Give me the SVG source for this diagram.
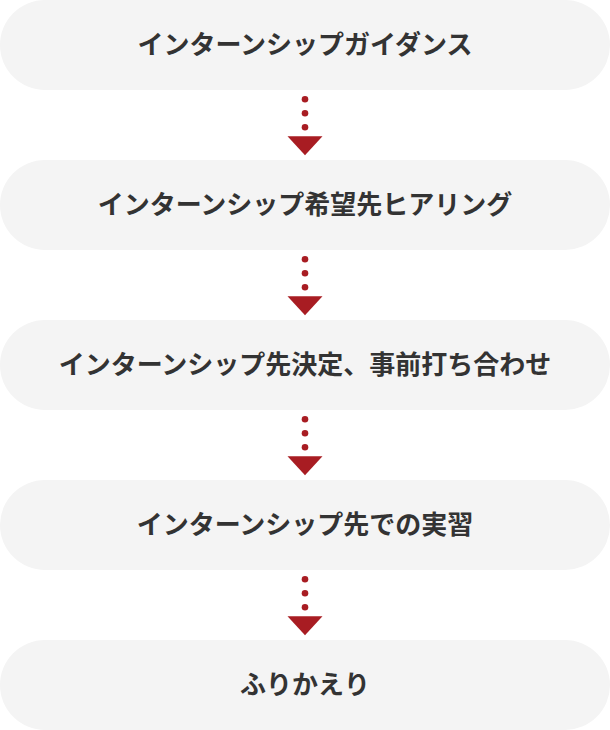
<svg xmlns="http://www.w3.org/2000/svg" width="610" height="730" viewBox="0 0 610 730">
<style>
.box{fill:#f4f4f4}
.lbl{font-family:"Noto Sans CJK JP","Noto Sans",sans-serif;font-weight:bold;font-size:26px;fill:#333333;text-anchor:middle}
.dot{fill:#a81c22}
.tri{fill:#a81c22}
</style>
<defs>
<g id="conn">
<circle class="dot" cx="0" cy="0" r="3.3"/>
<circle class="dot" cx="0" cy="14" r="3.3"/>
<circle class="dot" cx="0" cy="28" r="3.3"/>
<polygon class="tri" points="-17.5,37 17.5,37 0,56"/>
</g>
</defs>
<g id="n1"><rect class="box" x="0" y="0" width="610" height="90" rx="45"/><text class="lbl" x="305" y="54">インターンシップガイダンス</text></g>
<g id="n2"><rect class="box" x="0" y="160" width="610" height="90" rx="45"/><text class="lbl" x="305" y="214">インターンシップ希望先ヒアリング</text></g>
<g id="n3"><rect class="box" x="0" y="320" width="610" height="90" rx="45"/><text class="lbl" x="305" y="374">インターンシップ先決定、事前打ち合わせ</text></g>
<g id="n4"><rect class="box" x="0" y="480" width="610" height="90" rx="45"/><text class="lbl" x="305" y="534">インターンシップ先での実習</text></g>
<g id="n5"><rect class="box" x="0" y="640" width="610" height="90" rx="45"/><text class="lbl" x="305" y="694">ふりかえり</text></g>
<g id="connectors">
<use href="#conn" x="305" y="99.3"/>
<use href="#conn" x="305" y="259.3"/>
<use href="#conn" x="305" y="419.3"/>
<use href="#conn" x="305" y="579.3"/>
</g>
</svg>
